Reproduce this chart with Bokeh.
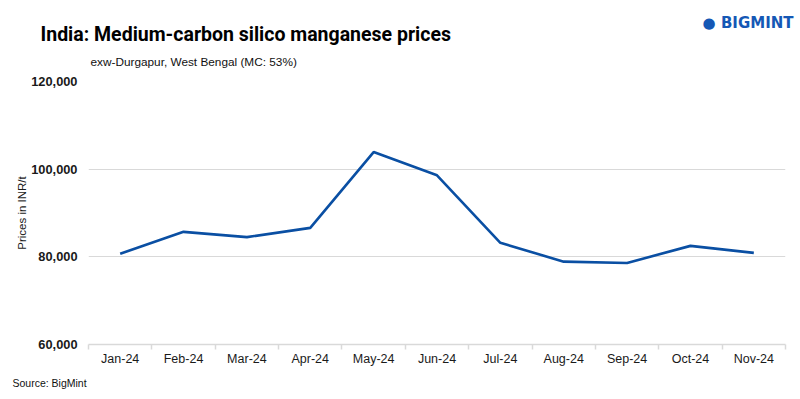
from bokeh.plotting import figure
from bokeh.models import Range1d, FixedTicker, NumeralTickFormatter, Title
from bokeh.embed import file_html
from bokeh.resources import INLINE

months = ["Jan-24", "Feb-24", "Mar-24", "Apr-24", "May-24", "Jun-24",
          "Jul-24", "Aug-24", "Sep-24", "Oct-24", "Nov-24"]
prices = [80700, 85700, 84500, 86600, 103900, 98600, 83200, 78900, 78600, 82500, 80900]
y_ticks = [60000, 80000, 100000, 120000]

title_text = "India: Medium-carbon silico manganese prices"
subtitle_text = "exw-Durgapur, West Bengal (MC: 53%)"
source_text = "Source: BigMint"
logo_text = "\u25CF BIGMINT"

BLUE = "#0a4fa3"
LOGO_BLUE = "#1558b5"

xs = list(range(len(months)))
p = figure(width=800, height=399, output_backend="svg", toolbar_location=None,
           title=None,
           x_range=Range1d(-0.5, len(months) - 0.5), y_range=Range1d(60000, 120000),
           min_border_left=88, min_border_right=15, min_border_top=81, min_border_bottom=55)
p.outline_line_color = None
p.line(xs, prices, line_color=BLUE, line_width=2.6)

p.xaxis.ticker = FixedTicker(ticks=xs, minor_ticks=[i - 0.5 for i in range(len(months) + 1)])
p.xaxis.major_label_overrides = {i: m for i, m in enumerate(months)}
p.xaxis.axis_line_color = "#d9d9d9"
p.xaxis.axis_line_width = 1.5
p.xaxis.major_tick_line_color = None
p.xaxis.minor_tick_line_color = "#d9d9d9"
p.xaxis.minor_tick_line_width = 1.5
p.xaxis.minor_tick_out = 5
p.xaxis.minor_tick_in = 0
p.xaxis.major_label_standoff = 1
p.xaxis.major_label_text_font = "Liberation Sans"
p.xaxis.major_label_text_font_size = "12.5px"
p.xaxis.major_label_text_color = "#1a1a1a"
p.xgrid.grid_line_color = None

p.yaxis.ticker = FixedTicker(ticks=y_ticks)
p.yaxis.formatter = NumeralTickFormatter(format="0,0")
p.yaxis.axis_line_color = None
p.yaxis.major_tick_line_color = None
p.yaxis.minor_tick_line_color = None
p.yaxis.major_label_standoff = 5
p.yaxis.major_label_text_font = "Liberation Sans"
p.yaxis.major_label_text_font_style = "bold"
p.yaxis.major_label_text_font_size = "12.8px"
p.yaxis.major_label_text_color = "#1a1a1a"
p.yaxis.axis_label = "Prices in INR/t"
p.yaxis.axis_label_text_font = "Liberation Sans"
p.yaxis.axis_label_text_font_style = "normal"
p.yaxis.axis_label_text_font_size = "11.5px"
p.yaxis.axis_label_text_color = "#1a1a1a"
p.yaxis.axis_label_standoff = 0
p.ygrid.grid_line_color = "#d9d9d9"
p.ygrid.grid_line_width = 1.2

sub = Title(text=subtitle_text, align="left", offset=2, standoff=25,
            text_font="Liberation Sans", text_font_size="11.8px",
            text_font_style="normal", text_color="#111111")
main = Title(text=title_text, align="left", offset=-48, standoff=-11,
             text_font="Roboto", text_font_size="19.5px",
             text_font_style="bold", text_color="#000000")
logo = Title(text=logo_text, align="right", offset=-8, standoff=-11,
             text_font="DejaVu Sans", text_font_size="15px",
             text_font_style="bold", text_color=LOGO_BLUE)
src = Title(text=source_text, align="left", offset=-76, standoff=12,
            text_font="Liberation Sans", text_font_size="10.5px",
            text_font_style="normal", text_color="#111111")
p.add_layout(sub, "above")
p.add_layout(main, "above")
p.add_layout(logo, "above")
p.add_layout(src, "below")

open("out.html", "w").write(file_html(p, INLINE))
